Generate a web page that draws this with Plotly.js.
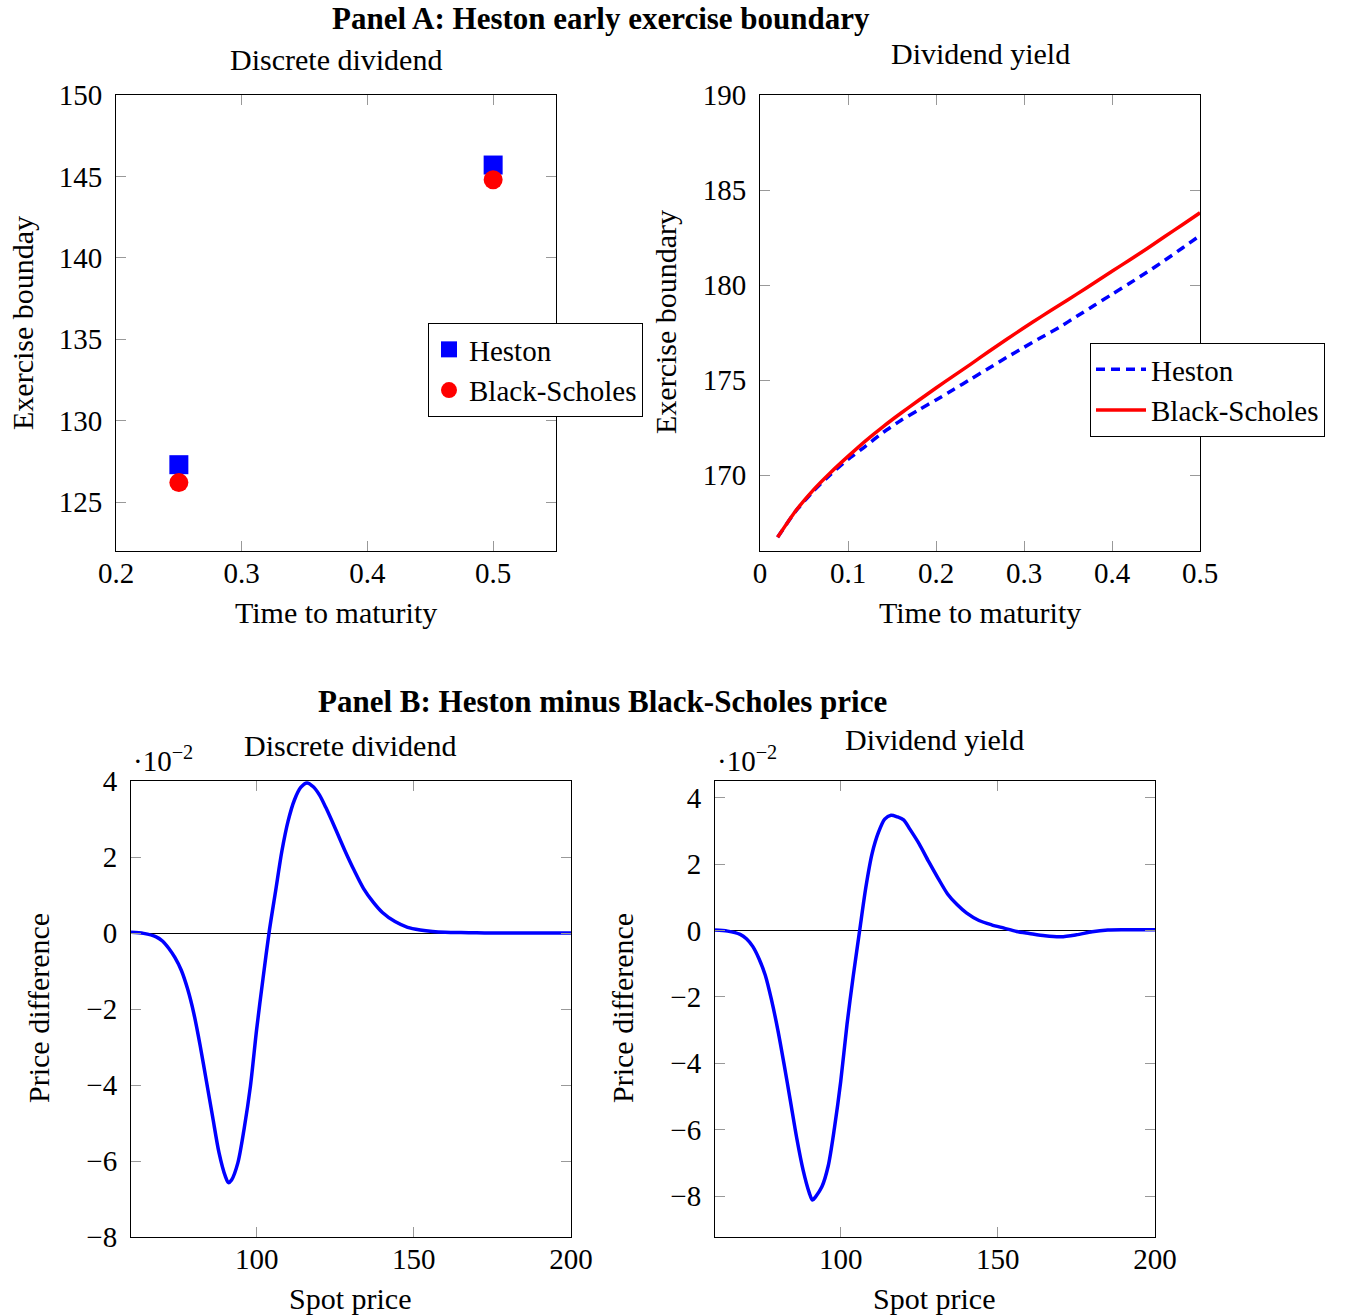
<!DOCTYPE html>
<html>
<head>
<meta charset="utf-8">
<script src="https://cdn.plot.ly/plotly-3.0.1.min.js"></script>
<style>
  html, body { margin: 0; padding: 0; background: #ffffff; }
  #chart { width: 1352px; height: 1315px; }
</style>
</head>
<body>
<div id="chart"></div>
<script>
// ---------------- Data ----------------
// Panel A, left: discrete dividend
const maturityDiscrete = [0.25, 0.5];
const hestonDiscrete = [127.3, 145.7];
const bsDiscrete = [126.2, 144.8];

// Panel A, right: dividend yield
const maturityYield = [0.02, 0.04, 0.06, 0.08, 0.10, 0.12, 0.14, 0.16, 0.18, 0.20,
                       0.22, 0.24, 0.26, 0.28, 0.30, 0.32, 0.34, 0.36, 0.38, 0.40,
                       0.42, 0.44, 0.46, 0.48, 0.50];
const hestonYield = [166.72, 168.06, 169.12, 170.02, 170.82, 171.52, 172.25, 172.87, 173.42, 173.95,
                     174.50, 175.06, 175.62, 176.18, 176.72, 177.25, 177.77, 178.35, 178.93, 179.51,
                     180.09, 180.68, 181.30, 181.95, 182.60];
const bsYield = [166.72, 168.08, 169.18, 170.12, 170.98, 171.80, 172.55, 173.25, 173.92, 174.58,
                 175.22, 175.85, 176.50, 177.13, 177.75, 178.35, 178.93, 179.52, 180.12, 180.72,
                 181.32, 181.92, 182.55, 183.17, 183.80];

// Panel B: Heston minus Black-Scholes price (values in units of 10^-2)
const spotPrice = [60, 64, 68, 70, 72, 74, 76, 78, 80, 82, 84, 86, 88, 90, 91, 92, 94, 96, 98, 100,
                   102, 104, 106, 108, 110, 112, 114, 116, 118, 120, 122, 125, 128, 131, 134, 137, 140,
                   144, 148, 152, 156, 160, 165, 170, 175, 180, 185, 190, 200];
const diffDiscrete = [0.02, -0.01, -0.10, -0.21, -0.40, -0.65, -0.98, -1.47, -2.12, -2.96, -3.90, -4.85,
                      -5.78, -6.40, -6.57, -6.50, -6.05, -5.15, -4.03, -2.52, -1.20, 0.05, 1.10, 2.15,
                      2.95, 3.50, 3.83, 3.95, 3.85, 3.63, 3.30, 2.75, 2.18, 1.65, 1.17, 0.82, 0.54,
                      0.30, 0.15, 0.08, 0.04, 0.02, 0.01, 0.005, 0.0, 0.0, 0.0, 0.0, 0.0];
const diffYield = [0.01, -0.02, -0.12, -0.25, -0.48, -0.85, -1.35, -2.10, -3.00, -4.04, -5.14, -6.25,
                   -7.20, -7.90, -8.12, -8.02, -7.72, -7.10, -5.95, -4.55, -2.83, -1.36, -0.02, 1.30,
                   2.32, 2.95, 3.35, 3.47, 3.42, 3.33, 3.05, 2.60, 2.07, 1.57, 1.10, 0.78, 0.53,
                   0.30, 0.17, 0.07, -0.03, -0.09, -0.16, -0.19, -0.13, -0.04, 0.01, 0.02, 0.02];

// ---------------- Styling helpers ----------------
const W = 1352, H = 1315;
const FONT = "Liberation Serif, Times New Roman, serif";
const fx = p => p / W;
const fy = p => 1 - p / H;

function axisBase(extra) {
  return Object.assign({
    showline: true, linecolor: 'black', linewidth: 1, mirror: 'ticks',
    ticks: 'inside', ticklen: 10, tickwidth: 1, tickcolor: '#999999',
    showgrid: false, zeroline: false, automargin: false,
    tickfont: { family: FONT, size: 29, color: 'black' }
  }, extra);
}

const blue = '#0000ff', red = '#ff0000';

const traces = [
  { x: maturityDiscrete, y: hestonDiscrete, type: 'scatter', mode: 'markers', name: 'Heston',
    xaxis: 'x', yaxis: 'y', legend: 'legend',
    marker: { symbol: 'square', size: 19, color: blue } },
  { x: maturityDiscrete, y: bsDiscrete, type: 'scatter', mode: 'markers', name: 'Black-Scholes',
    xaxis: 'x', yaxis: 'y', legend: 'legend',
    marker: { symbol: 'circle', size: 19, color: red } },
  { x: maturityYield, y: hestonYield, type: 'scatter', mode: 'lines', name: 'Heston',
    xaxis: 'x2', yaxis: 'y2', legend: 'legend2',
    line: { color: blue, width: 3.5, dash: '9px,6px', shape: 'spline', smoothing: 0.6 } },
  { x: maturityYield, y: bsYield, type: 'scatter', mode: 'lines', name: 'Black-Scholes',
    xaxis: 'x2', yaxis: 'y2', legend: 'legend2',
    line: { color: red, width: 3.5, shape: 'spline', smoothing: 0.6 } },
  { x: spotPrice, y: diffDiscrete, type: 'scatter', mode: 'lines', name: 'Discrete dividend',
    xaxis: 'x3', yaxis: 'y3', showlegend: false,
    line: { color: blue, width: 3.5, shape: 'spline', smoothing: 0.8 } },
  { x: spotPrice, y: diffYield, type: 'scatter', mode: 'lines', name: 'Dividend yield',
    xaxis: 'x4', yaxis: 'y4', showlegend: false,
    line: { color: blue, width: 3.5, shape: 'spline', smoothing: 0.8 } }
];

const topY = [fy(551), fy(95)];
const botY = [fy(1237), fy(781)];

const layout = {
  width: W, height: H,
  margin: { l: 0, r: 0, t: 0, b: 0 },
  paper_bgcolor: 'white', plot_bgcolor: 'white',
  font: { family: FONT, size: 29, color: 'black' },
  xaxis: axisBase({ domain: [fx(116), fx(556)], anchor: 'y', range: [0.2, 0.55], tick0: 0.2, dtick: 0.1, ticklabelstandoff: -4 }),
  yaxis: axisBase({ domain: topY, anchor: 'x', range: [122, 150], tick0: 125, dtick: 5, ticklabelstandoff: 7 }),
  xaxis2: axisBase({ domain: [fx(760), fx(1200)], anchor: 'y2', range: [0, 0.5], tick0: 0, dtick: 0.1, ticklabelstandoff: -4 }),
  yaxis2: axisBase({ domain: topY, anchor: 'x2', range: [166, 190], tick0: 170, dtick: 5, ticklabelstandoff: 7 }),
  xaxis3: axisBase({ domain: [fx(131), fx(571)], anchor: 'y3', range: [60, 200], tick0: 0, dtick: 50, ticklabelstandoff: -4 }),
  yaxis3: axisBase({ domain: botY, anchor: 'x3', range: [-8, 4], tick0: 0, dtick: 2, ticklabelstandoff: 7,
                     zeroline: true, zerolinecolor: 'black', zerolinewidth: 1 }),
  xaxis4: axisBase({ domain: [fx(715), fx(1155)], anchor: 'y4', range: [60, 200], tick0: 0, dtick: 50, ticklabelstandoff: -4 }),
  yaxis4: axisBase({ domain: botY, anchor: 'x4', range: [-9.23, 4.5], tick0: 0, dtick: 2, ticklabelstandoff: 7,
                     zeroline: true, zerolinecolor: 'black', zerolinewidth: 1 }),
  legend: {
    x: fx(428), y: fy(323), xanchor: 'left', yanchor: 'top',
    bgcolor: 'white', bordercolor: 'black', borderwidth: 1,
    font: { family: FONT, size: 29, color: 'black' }, itemwidth: 30, tracegroupgap: 0
  },
  legend2: {
    x: fx(1090), y: fy(343), xanchor: 'left', yanchor: 'top',
    bgcolor: 'white', bordercolor: 'black', borderwidth: 1,
    font: { family: FONT, size: 29, color: 'black' }, itemwidth: 50, tracegroupgap: 0
  },
  annotations: []
};

function note(text, x, y, opts) {
  layout.annotations.push(Object.assign({
    text: text, x: fx(x), y: fy(y), xref: 'paper', yref: 'paper',
    xanchor: 'center', yanchor: 'middle', showarrow: false,
    font: { family: FONT, size: 30, color: 'black' }
  }, opts || {}));
}

// Panel titles
note('<b>Panel A: Heston early exercise boundary</b>', 601, 18, { font: { family: FONT, size: 31, color: 'black' } });
note('<b>Panel B: Heston minus Black-Scholes price</b>', 602, 701, { font: { family: FONT, size: 31, color: 'black' } });
// Subplot titles
note('Discrete dividend', 336, 59);
note('Dividend yield', 980, 54);
note('Discrete dividend', 350, 745);
note('Dividend yield', 934, 739);
// Axis titles
note('Time to maturity', 336, 612);
note('Time to maturity', 980, 612);
note('Spot price', 350, 1298);
note('Spot price', 934, 1298);
note('Exercise bounday', 22, 323, { textangle: -90 });
note('Exercise boundary', 666, 322, { textangle: -90 });
note('Price difference', 38, 1008, { textangle: -90 });
note('Price difference', 622, 1008, { textangle: -90 });
// Scale factors
note('·10<sup>−2</sup>', 131, 759, { xanchor: 'left', font: { family: FONT, size: 29, color: 'black' } });
note('·10<sup>−2</sup>', 715, 759, { xanchor: 'left', font: { family: FONT, size: 29, color: 'black' } });

Plotly.newPlot('chart', traces, layout, { displayModeBar: false, staticPlot: true });
</script>
</body>
</html>
